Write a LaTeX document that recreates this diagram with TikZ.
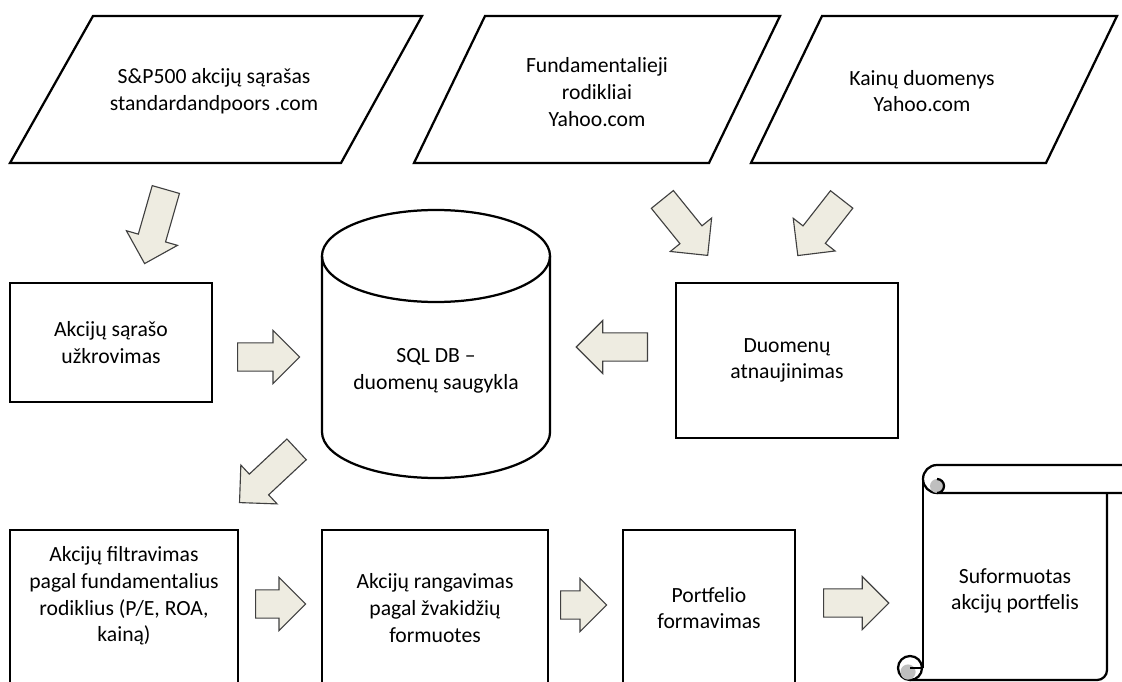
\documentclass[tikz,border=0pt]{standalone}
\usepackage{fontspec}
\setmainfont{Carlito}
\usetikzlibrary{shapes.arrows}
\definecolor{arrowfill}{HTML}{EEECE1}
\definecolor{arrowline}{HTML}{404040}
\definecolor{rollgray}{HTML}{BFBFBF}
\begin{document}
\begin{tikzpicture}[x=0.025cm, y=-0.025cm, outline/.style={draw=black, line width=1.6pt}, boxtext/.style={align=center, font=\fontsize{15.4}{18.9}\selectfont, inner sep=0pt}, blockarrow/.style={shape=single arrow, draw=arrowline, fill=arrowfill, line width=0.8pt, single arrow head extend=0.31cm, minimum width=1.3cm, inner xsep=0pt, inner ysep=0.34cm, anchor=tail}]
	\useasboundingbox (0,0) rectangle (1122,682);
	% Paths, nodes and wires:
	\draw[outline] (93,16) -- (422,16) -- (341,163) -- (10,163) -- cycle;
	\node[boxtext] (sp) at (214,91) {S\&P500 akcijų sąrašas\\standardandpoors .com};
	\draw[outline] (485,16) -- (780,16) -- (709,163) -- (414,163) -- cycle;
	\node[boxtext] (fund) at (597,92) {Fundamentalieji\\rodikliai\\Yahoo.com};
	\draw[outline] (822,16) -- (1117,16) -- (1046,163) -- (751,163) -- cycle;
	\node[boxtext] (price) at (922,91) {Kainų duomenys\\Yahoo.com};
	\node[boxtext, outline, minimum width=5.05cm, minimum height=2.975cm] (load) at (111,342.5) {Akcijų sąrašo\\užkrovimas};
	\node[boxtext, outline, minimum width=5.55cm, minimum height=3.875cm] (update) at (787,360.5) {Duomenų\\atnaujinimas};
	\draw[outline] (436,256) ellipse[x radius=2.85cm, y radius=1.15cm];
	\draw[outline] (322,256) -- (322,432) arc[start angle=180, end angle=360, x radius=2.85cm, y radius=1.15cm] -- (550,256);
	\node[boxtext] (db) at (436,371) {SQL DB –\\duomenų saugykla};
	\node[outline, minimum width=5.7cm, minimum height=4.25cm] (filter) at (124,615) {};
	\node[boxtext] (filtertext) at (124,596) {Akcijų filtravimas\\pagal fundamentalius\\rodiklius (P/E, ROA,\\kainą)};
	\node[outline, minimum width=5.65cm, minimum height=4.25cm] (rank) at (435,615) {};
	\node[boxtext] (ranktext) at (435,608) {Akcijų rangavimas\\pagal žvakidžių\\formuotes};
	\node[outline, minimum width=4.3cm, minimum height=4.25cm] (form) at (709,615) {};
	\node[boxtext] (formtext) at (709,608) {Portfelio\\formavimas};
	% scroll
	\draw[outline] (1125,465) -- (937,465) arc[start angle=90, end angle=270, radius=0.35cm] -- (1125,493);
	\fill[rollgray] (937,486) circle[radius=0.175cm];
	\draw[outline] (937,479) arc[start angle=90, end angle=-90, radius=0.175cm];
	\draw[outline] (923,479) -- (923,668);
	\draw[outline] (910,680) -- (1097,680) arc[start angle=270, end angle=360, radius=0.25cm] -- (1107,493);
	\draw[outline, fill=white] (910,668) circle[radius=0.3cm];
	\fill[rollgray] (908,672) circle[radius=0.19cm];
	\draw[outline] (910,668) -- (922,668);
	\node[boxtext] (result) at (1015,591) {Suformuotas\\akcijų portfelis};
	% block arrows
	\node[blockarrow, minimum height=1.925cm, rotate=-106] (a1) at (166,189) {};
	\node[blockarrow, minimum height=1.8cm, rotate=-51] (a2) at (662,199) {};
	\node[blockarrow, minimum height=1.78cm, rotate=-128] (a3) at (842,199) {};
	\node[blockarrow, minimum height=1.55cm] (a4) at (237,357) {};
	\node[blockarrow, minimum height=1.78cm, rotate=180] (a5) at (648,347) {};
	\node[blockarrow, minimum height=1.95cm, rotate=-137] (a6) at (297,449) {};
	\node[blockarrow, minimum height=1.25cm] (a7) at (255,604) {};
	\node[blockarrow, minimum height=1.15cm] (a8) at (560,605) {};
	\node[blockarrow, minimum height=1.63cm] (a9) at (823,603) {};
\end{tikzpicture}
\end{document}
